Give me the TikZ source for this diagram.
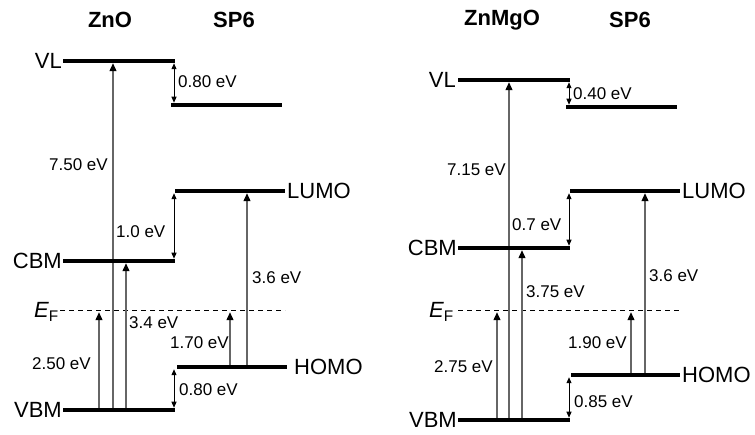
\documentclass[tikz,border=0pt]{standalone}
\usepackage{fontspec}
\setmainfont{Liberation Sans}
\usetikzlibrary{arrows.meta}

\begin{document}
\begin{tikzpicture}[
  x=1pt, y=-1pt,
  level/.style={line width=4.5pt},
  fermi/.style={line width=0.6pt, dash pattern=on 5pt off 4pt},
  lvl/.style={font=\fontsize{22}{26}\selectfont, inner sep=0pt},
  title/.style={font=\fontsize{22}{26}\selectfont\bfseries, inner sep=0pt},
  val/.style={font=\fontsize{17}{20}\selectfont, inner sep=0pt},
  uparrow/.style={-{Triangle[length=8pt, width=7pt, color=black]},
              draw=black!60, line width=1.3pt, shorten >=2.25pt},
  offset/.style={{Triangle[length=6pt, width=5pt]}-{Triangle[length=6pt, width=5pt]},
              line width=1pt, shorten <=2.25pt, shorten >=2.25pt},
]
  \useasboundingbox (0,0) rectangle (755,435);

  % Titles
  \node[title] (znoT) at (110,20) {ZnO};
  \node[title] (sp6aT) at (234,20) {SP6};
  \node[title] (zmgoT) at (502,20) {ZnMgO};
  \node[title] (sp6bT) at (630,20) {SP6};

  % Left: ZnO / SP6 levels
  \coordinate (zVL) at (63,61);     \coordinate (zVLe) at (175,61);
  \coordinate (sVac) at (171,105);  \coordinate (sVace) at (282,105);
  \coordinate (sLUMO) at (175,191); \coordinate (sLUMOe) at (285,191);
  \coordinate (zCBM) at (63,261);   \coordinate (zCBMe) at (175,261);
  \coordinate (zEF) at (60,310);    \coordinate (zEFe) at (285,310);
  \coordinate (sHOMO) at (177,367); \coordinate (sHOMOe) at (287,367);
  \coordinate (zVBM) at (63,410);   \coordinate (zVBMe) at (175,410);

  % Left: arrow columns
  \coordinate (cA) at (99,0);
  \coordinate (cB) at (113,0);
  \coordinate (cC) at (126,0);
  \coordinate (cD) at (174,0);
  \coordinate (cE) at (230,0);
  \coordinate (cF) at (247,0);

  \draw[fermi] (zEF) -- (zEFe);
  \draw[uparrow] (cA |- zVBM) -- (cA |- zEF);
  \draw[uparrow] (cB |- zVBM) -- (cB |- zVL);
  \draw[uparrow] (cC |- zVBM) -- (cC |- zCBM);
  \draw[uparrow] (cE |- sHOMO) -- (cE |- zEF);
  \draw[uparrow] (cF |- sHOMO) -- (cF |- sLUMO);
  \draw[offset] (cD |- zVL) -- (cD |- sVac);
  \draw[offset] (cD |- sLUMO) -- (cD |- zCBM);
  \draw[offset] (cD |- sHOMO) -- (cD |- zVBM);

  \draw[level] (zVL) -- (zVLe);
  \draw[level] (sVac) -- (sVace);
  \draw[level] (sLUMO) -- (sLUMOe);
  \draw[level] (zCBM) -- (zCBMe);
  \draw[level] (sHOMO) -- (sHOMOe);
  \draw[level] (zVBM) -- (zVBMe);

  \node[lvl, anchor=east] (vlZ) at ([xshift=-1pt]zVL) {VL};
  \node[lvl, anchor=east] (cbmZ) at ([xshift=-1pt]zCBM) {CBM};
  \node[lvl, anchor=east] (vbmZ) at ([xshift=-1pt]zVBM) {VBM};
  \node[lvl, anchor=base east] (efZ) at (59,318) {\itshape E\/\upshape\textsubscript{F}};
  \node[lvl, anchor=west] (lumoA) at ([xshift=2pt]sLUMOe) {LUMO};
  \node[lvl, anchor=west] (homoA) at ([xshift=7pt]sHOMOe) {HOMO};

  \node[val, anchor=west] (vacA) at (178,82) {0.80 eV};
  \node[val, anchor=east] (gapVL) at (108,165) {7.50 eV};
  \node[val, anchor=west] (lumoOff) at (116,232) {1.0 eV};
  \node[val, anchor=west] (gapZ) at (129,323) {3.4 eV};
  \node[val, anchor=east] (efVBM) at (91,364) {2.50 eV};
  \node[val, anchor=east] (efHOMO) at (229,343) {1.70 eV};
  \node[val, anchor=west] (homoOff) at (179,390) {0.80 eV};
  \node[val, anchor=west] (gapS) at (252,278) {3.6 eV};

  % Right: ZnMgO / SP6 levels
  \coordinate (mVL) at (458,80);    \coordinate (mVLe) at (570,80);
  \coordinate (tVac) at (566,107);  \coordinate (tVace) at (677,107);
  \coordinate (tLUMO) at (570,191); \coordinate (tLUMOe) at (680,191);
  \coordinate (mCBM) at (458,248);  \coordinate (mCBMe) at (570,248);
  \coordinate (mEF) at (458,310);   \coordinate (mEFe) at (680,310);
  \coordinate (tHOMO) at (571,375); \coordinate (tHOMOe) at (680,375);
  \coordinate (mVBM) at (458,420);  \coordinate (mVBMe) at (570,420);

  % Right: arrow columns
  \coordinate (dA) at (497,0);
  \coordinate (dB) at (509,0);
  \coordinate (dC) at (522,0);
  \coordinate (dD) at (569,0);
  \coordinate (dE) at (631,0);
  \coordinate (dF) at (645,0);

  \draw[fermi] (mEF) -- (mEFe);
  \draw[uparrow] (dA |- mVBM) -- (dA |- mEF);
  \draw[uparrow] (dB |- mVBM) -- (dB |- mVL);
  \draw[uparrow] (dC |- mVBM) -- (dC |- mCBM);
  \draw[uparrow] (dE |- tHOMO) -- (dE |- mEF);
  \draw[uparrow] (dF |- tHOMO) -- (dF |- tLUMO);
  \draw[offset] (dD |- mVL) -- (dD |- tVac);
  \draw[offset] (dD |- tLUMO) -- (dD |- mCBM);
  \draw[offset] (dD |- tHOMO) -- (dD |- mVBM);

  \draw[level] (mVL) -- (mVLe);
  \draw[level] (tVac) -- (tVace);
  \draw[level] (tLUMO) -- (tLUMOe);
  \draw[level] (mCBM) -- (mCBMe);
  \draw[level] (tHOMO) -- (tHOMOe);
  \draw[level] (mVBM) -- (mVBMe);

  \node[lvl, anchor=east] (vlM) at ([xshift=-2pt]mVL) {VL};
  \node[lvl, anchor=east] (cbmM) at ([xshift=-1pt]mCBM) {CBM};
  \node[lvl, anchor=east] (vbmM) at ([xshift=-1pt]mVBM) {VBM};
  \node[lvl, anchor=base east] (efM) at (454,318) {\itshape E\/\upshape\textsubscript{F}};
  \node[lvl, anchor=west] (lumoB) at ([xshift=2pt]tLUMOe) {LUMO};
  \node[lvl, anchor=west] (homoB) at ([xshift=2pt]tHOMOe) {HOMO};

  \node[val, anchor=west] (vacB) at (573,94) {0.40 eV};
  \node[val, anchor=east] (gapVLm) at (506,170) {7.15 eV};
  \node[val, anchor=west] (lumoOffB) at (512,225) {0.7 eV};
  \node[val, anchor=west] (gapM) at (526,292) {3.75 eV};
  \node[val, anchor=east] (efVBMm) at (493,367) {2.75 eV};
  \node[val, anchor=east] (efHOMOb) at (627,343) {1.90 eV};
  \node[val, anchor=west] (homoOffB) at (574,402) {0.85 eV};
  \node[val, anchor=west] (gapSb) at (649,276) {3.6 eV};
\end{tikzpicture}
\end{document}
